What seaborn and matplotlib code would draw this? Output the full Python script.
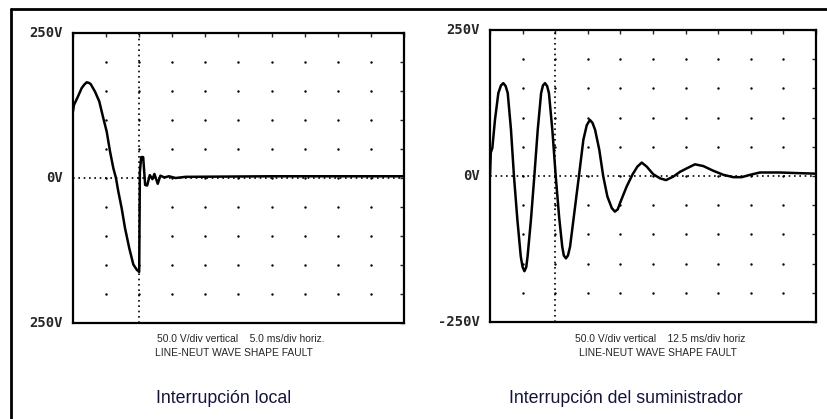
import numpy as np
import pandas as pd
import seaborn as sns
import matplotlib.pyplot as plt
from matplotlib.lines import Line2D

# Interrupcion local: 5.0 ms/div, 50 V/div
local_t = [0.0, 0.15, 0.65, 1.31, 1.7, 2.07, 2.4, 2.67, 3.32, 3.97, 4.58, 5.09, 5.59,
           6.09, 6.49, 6.84, 7.35, 7.85, 8.50, 9.11, 9.62, 10.0, 10.1, 10.3, 10.6,
           10.9, 11.2, 11.6, 12.0, 12.3, 12.8, 13.2, 13.8, 14.5, 15.5, 17.0, 30.0, 50.0]
local_v = [115, 126, 138, 155, 161, 165, 164, 162, 149, 132, 103, 80, 46,
           17, 0, -23, -52, -86, -121, -149, -158, -162, 10, 36, 36,
           -12, -13, 5, -2, 7, -10, 4, 1, 3, 0, 2, 3, 3]

# Interrupcion del suministrador: 12.5 ms/div, 50 V/div
sum_t = [0.0, 0.3, 0.9, 1.9, 3.2, 4.2, 5.1, 6.0, 6.8, 8.05, 9.2, 10.5, 11.8, 12.5,
         13.2, 13.9, 14.4, 15.7, 17.0, 18.3, 19.6, 20.3, 21.1, 21.9, 22.6, 23.9,
         25.2, 26.5, 27.7, 28.3, 29.1, 29.9, 30.7, 32.3, 34.1, 35.8, 37.1, 38.3,
         39.3, 40.3, 41.9, 43.4, 45.0, 46.7, 47.9, 49.0, 49.8, 52.4, 54.7, 56.5,
         58.2, 60.1, 62.6, 65.2, 67.5, 70.3, 72.8, 75.4, 78.6, 81.8, 85.6, 89.5,
         93.3, 96.5, 99.7, 103.5, 111.2, 117.6, 125.0]
sum_v = [0, 40, 48, 96, 142, 155, 159, 154, 142, 79, -1, -75, -138, -156,
         -163, -156, -138, -75, 0, 79, 142, 155, 159, 154, 142, 79,
         0, -70, -121, -136, -141, -136, -121, -64, 0, 62, 87, 96,
         91, 79, 45, 0, -35, -55, -61, -57, -47, -18, 3, 16,
         23, 16, 3, -4, -7, -1, 7, 13, 20, 17, 9, 2,
         -2, -2, 2, 6, 6, 5, 4]

panels = [
    dict(t=local_t, v=local_v, span=50.0, ylabels=["250V", "0V", "250V"],
         line1="50.0 V/div vertical    5.0 ms/div horiz.", cap_x=(241, 234),
         title="Interrupción local", title_x=224,
         rect=[73 / 828, 1 - 323 / 419, 331 / 828, 290 / 419]),
    dict(t=sum_t, v=sum_v, span=125.0, ylabels=["250V", "0V", "-250V"],
         line1="50.0 V/div vertical    12.5 ms/div horiz", cap_x=(660, 658),
         title="Interrupción del suministrador", title_x=626,
         rect=[490 / 828, 1 - 322 / 419, 326 / 828, 292 / 419]),
]

sns.set_style("white")
plt.rcParams['font.family'] = ['Liberation Sans', 'DejaVu Sans']

fig = plt.figure(figsize=(8.28, 4.19), dpi=100)
fig.add_artist(Line2D([11 / 828, 11 / 828], [0, 1 - 9 / 419], color="black", lw=2))
fig.add_artist(Line2D([11 / 828, 1], [1 - 9 / 419, 1 - 9 / 419], color="black", lw=2))

for p in panels:
    ax = fig.add_axes(p["rect"])
    span = p["span"]
    div = span / 10
    df = pd.DataFrame({"t": p["t"], "v": p["v"]})

    # grid dots at each division
    gx, gy = np.meshgrid(np.arange(1, 10) * div, np.arange(-200, 250, 50))
    ax.scatter(gx.ravel(), gy.ravel(), s=3, color="black", linewidths=0, zorder=1)
    ax.axhline(0, color="black", lw=1.2, ls=(0, (1, 2.2)), zorder=1)
    ax.axvline(2 * div, color="black", lw=1.2, ls=(0, (1, 2.2)), zorder=1)

    sns.lineplot(data=df, x="t", y="v", ax=ax, color="black", lw=1.8,
                 sort=False, estimator=None, zorder=3,
                 solid_joinstyle="round", solid_capstyle="round")

    ax.set_xlim(0, span)
    ax.set_ylim(-250, 250)
    ax.set_xticks(np.arange(0, 11) * div)
    ax.set_yticks(np.arange(-250, 251, 50))
    ax.tick_params(direction="in", length=3, width=1, top=True, right=True,
                   labelbottom=False, labelleft=False)
    ax.set_xlabel("")
    ax.set_ylabel("")
    for s in ax.spines.values():
        s.set_visible(True)
        s.set_color("black")
        s.set_linewidth(1.6)

    for y, lab in zip([250, 0, -250], p["ylabels"]):
        ax.text(-0.03, (y + 250) / 500, lab, transform=ax.transAxes,
                ha="right", va="center", fontsize=10, fontweight="bold",
                family="DejaVu Sans Mono")

    fig.text(p["cap_x"][0] / 828, 1 - 339 / 419, p["line1"], ha="center",
             va="center", fontsize=7.4)
    fig.text(p["cap_x"][1] / 828, 1 - 353 / 419, "LINE-NEUT WAVE SHAPE FAULT",
             ha="center", va="center", fontsize=7.4)
    fig.text(p["title_x"] / 828, 1 - 398 / 419, p["title"], ha="center",
             va="center", fontsize=12.8, color="#14143a")

fig.savefig("out.png", dpi=100)
